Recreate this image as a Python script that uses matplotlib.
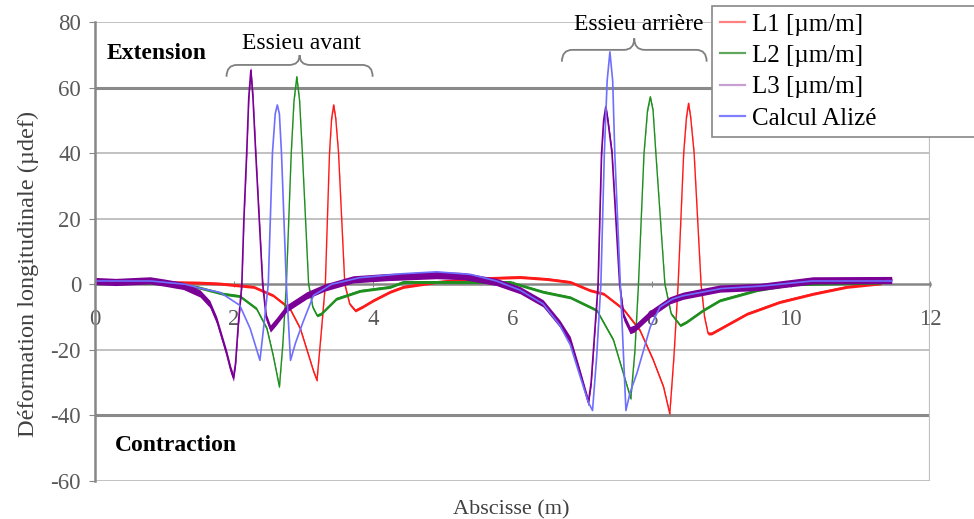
import matplotlib
matplotlib.use("Agg")
import matplotlib.pyplot as plt
import numpy as np
from matplotlib.path import Path
from matplotlib.patches import PathPatch

# données (abscisse en m, déformation en µdef)
x_l1 = [0, 0.8, 1.5, 1.8, 2.28, 2.56, 2.80, 2.95, 3.07, 3.14, 3.19, 3.25, 3.31, 3.37, 3.40, 3.43,
        3.46, 3.50, 3.59, 3.66, 3.74, 3.85, 4.0, 4.24, 4.43, 4.91, 5.5, 6.11, 6.5, 6.83, 7.11, 7.31,
        7.59, 7.83, 8.02, 8.17, 8.26, 8.32, 8.38, 8.46, 8.50, 8.53, 8.56, 8.61, 8.71, 8.76, 8.81,
        8.86, 9.03, 9.37, 9.84, 10.32, 10.80, 11.3]
y_l1 = [0.5, 0.7, 0.5, 0.2, -0.8, -3.4, -7.4, -13.5, -21.7, -26.5, -29.3, -15, 0, 40, 50.5, 54.7,
        50.5, 40, 0, -6, -8, -6.8, -4.9, -2.3, -0.8, 0.7, 1.8, 2.2, 1.6, 0.7, -1.8, -2.9,
        -7.5, -14, -23, -31.3, -39.5, -22, 0, 40, 51, 55.2, 51, 40, 0, -10, -15,
        -15, -13, -9, -5.4, -2.9, -0.8, 0.3]

x_l2 = [0, 0.8, 1.46, 1.84, 2.08, 2.32, 2.47, 2.56, 2.61, 2.65, 2.70, 2.75, 2.82, 2.86, 2.90, 2.94,
        2.98, 3.07, 3.13, 3.19, 3.25, 3.47, 3.81, 4.24, 4.43, 5.96, 6.44, 6.83, 7.21, 7.45, 7.59,
        7.70, 7.76, 7.81, 7.89, 7.94, 7.98, 8.02, 8.06, 8.19, 8.28, 8.41, 8.50, 8.74, 8.98, 9.51,
        10.0, 11.3]
y_l2 = [0.3, 0.5, -0.8, -2.9, -3.6, -7.4, -13.5, -21.7, -27, -31.3, -18, 0, 40, 56, 63.3, 56,
        40, 0, -7, -9.5, -9, -4.4, -2, -0.8, 0.7, 0.7, -2.3, -4, -7.9, -17, -27,
        -34.9, -20, 0, 40, 53, 57.2, 53, 40, 0, -9, -12.5, -11.5, -7.9, -4.9, -1.8,
        0, 0.5]

x_l3 = [0, 0.3, 0.79, 1.0, 1.27, 1.51, 1.65, 1.75, 1.89, 1.95, 1.99, 2.02, 2.06, 2.11, 2.14, 2.18,
        2.21, 2.24, 2.27, 2.31, 2.36, 2.41, 2.46, 2.52, 2.60, 2.75, 3.04, 3.3, 3.71, 4.2, 4.91,
        5.3, 5.77, 6.11, 6.44, 6.68, 6.83, 6.97, 7.09, 7.13, 7.18, 7.23, 7.28, 7.31, 7.34, 7.37,
        7.43, 7.54, 7.60, 7.69, 7.75, 7.98, 8.26, 8.45, 8.98, 9.56, 10.32, 11.45]
y_l3 = [1.0, 0.7, 1.2, 0.5, -0.5, -2.8, -6, -11, -21, -26, -28.5, -24, -12, 0, 20, 40,
        57, 65.3, 57, 40, 20, 0, -10, -13.5, -11.5, -7.4, -3.4, -1, 1.5, 2.2, 2.8,
        2.5, 0.7, -1.8, -5.8, -12, -17, -27, -36, -30, -15, 0, 40, 50, 54.1, 50,
        40, 0, -10, -14, -13.5, -9, -4.9, -3.5, -1.3, -0.8, 1.2, 1.3]

x_alize = [0, 0.8, 1.3, 1.51, 1.80, 2.08, 2.23, 2.31, 2.37, 2.43, 2.49, 2.55, 2.59, 2.62, 2.65,
           2.68, 2.75, 2.81, 2.88, 2.99, 3.14, 3.4, 3.8, 4.4, 4.91, 5.4, 5.77, 6.11, 6.44, 6.68,
           6.83, 6.97, 7.09, 7.15, 7.21, 7.27, 7.32, 7.36, 7.40, 7.44, 7.47, 7.55, 7.63, 7.69,
           7.79, 7.98, 8.12, 8.3, 8.45, 9.0, 9.6, 10.3, 11.45]
y_alize = [1.0, 1.0, 0, -1.2, -2.5, -6.4, -13.5, -19, -23.2, -12, 0, 40, 52, 54.7, 52,
           40, 0, -23.2, -18, -11.5, -3.4, 0, 2.0, 3.2, 3.8, 3.0, 1.0, -1.8, -6, -12.5,
           -18.5, -28, -36, -38.5, -22, 0, 40, 62, 70.9, 62, 40, 0, -38.5, -33,
           -27, -13, -6.9, -4.5, -3.5, -1.3, -0.5, 1.0, 1.0]

labels = ["L1 [µm/m]", "L2 [µm/m]", "L3 [µm/m]", "Calcul Alizé"]
y_ticks = [-60, -40, -20, 0, 20, 40, 60, 80]
x_ticks = [0, 2, 4, 6, 8, 10, 12]

plt.rcParams["font.family"] = ["Liberation Serif", "DejaVu Serif"]
plt.rcParams["axes.unicode_minus"] = False

fig = plt.figure(figsize=(9.74, 5.19), dpi=100)
ax = fig.add_axes([95 / 974, 1 - 481 / 519, 835 / 974, 459 / 519])
ax.set_xlim(0, 12)
ax.set_ylim(-60, 80)

# quadrillage
for yv in y_ticks:
    if yv == 0:
        continue
    if yv in (60, -40):
        ax.axhline(yv, color="#8a8a8a", lw=2.2, zorder=0.5)
    else:
        ax.axhline(yv, color="#b0b0b0", lw=1.1, zorder=0.5)
ax.axvline(12, color="#c0c0c0", lw=1.6, zorder=0.5)

# courbes : trait fin + bande étroite (épaisseur du bruit de mesure)
c1, c2, c3, c4 = "#ff1a1a", "#1f8f1f", "#7a0096", "#6f6fff"
ax.fill_between(x_l1, np.array(y_l1) - 0.45, np.array(y_l1) + 0.45, color=c1, lw=0, zorder=2)
ax.plot(x_l1, y_l1, color=c1, lw=1.0, label=labels[0], zorder=2)
ax.fill_between(x_l2, np.array(y_l2) - 0.45, np.array(y_l2) + 0.45, color=c2, lw=0, zorder=2.1)
ax.plot(x_l2, y_l2, color=c2, lw=1.0, label=labels[1], zorder=2.1)
ax.fill_between(x_l3, np.array(y_l3) - 1.1, np.array(y_l3) + 1.1, color=c3, lw=0, zorder=2.2)
ax.plot(x_l3, y_l3, color=c3, lw=1.2, label=labels[2], zorder=2.2)
ax.plot(x_alize, y_alize, color=c4, lw=1.2, label=labels[3], zorder=2.3)

# axes
ax.set_axisbelow(True)
for s in ["top", "right"]:
    ax.spines[s].set_visible(False)
ax.spines["bottom"].set_position(("data", 0))
ax.spines["bottom"].set_color("#868686")
ax.spines["bottom"].set_linewidth(1.8)
ax.spines["left"].set_color("#868686")
ax.spines["left"].set_linewidth(1.8)
ax.spines["bottom"].set_zorder(0.6)
ax.set_xticks(x_ticks)
ax.set_yticks(y_ticks)
ax.tick_params(axis="x", direction="inout", length=5, pad=15, labelsize=16.5,
               colors="#868686", labelcolor="#595959")
ax.tick_params(axis="y", direction="out", length=4, pad=6, labelsize=16.5,
               colors="#868686", labelcolor="#595959")

fig.text(28 / 974, 1 - 274 / 519, "Déformation longitudinale (µdef)", rotation=90,
         ha="center", va="center", fontsize=17.5, color="#404040")
fig.text(511 / 974, 1 - 510 / 519, "Abscisse (m)", ha="center", va="center",
         fontsize=16, color="#404040")

ax.text(0.16, 70.4, "Extension", fontsize=17, fontweight="bold", va="center")
ax.text(0.29, -49.2, "Contraction", fontsize=17, fontweight="bold", va="center")
ax.text(2.97, 73.5, "Essieu avant", fontsize=17, ha="center", va="center")
ax.text(7.82, 79.1, "Essieu arrière", fontsize=17, ha="center", va="center")


def accolade(x0, x1, y_end, y_mid, y_tip, r=0.15):
    xc = (x0 + x1) / 2
    verts = [(x0, y_end), (x0, y_mid), (x0 + r, y_mid),
             (xc - r, y_mid), (xc, y_mid), (xc, y_tip),
             (xc, y_mid), (xc + r, y_mid),
             (x1 - r, y_mid), (x1, y_mid), (x1, y_end)]
    codes = [Path.MOVETO, Path.CURVE3, Path.CURVE3,
             Path.LINETO, Path.CURVE3, Path.CURVE3,
             Path.CURVE3, Path.CURVE3,
             Path.LINETO, Path.CURVE3, Path.CURVE3]
    ax.add_patch(PathPatch(Path(verts, codes), fill=False, edgecolor="#7f7f7f",
                           lw=1.3, zorder=3))


accolade(1.89, 3.99, 63.3, 66.9, 69.9)
accolade(6.71, 8.79, 67.9, 71.5, 75.0)

leg = ax.legend(loc="upper left", bbox_to_anchor=(712 / 974, 1 - 11 / 519, 280 / 974, 0.01),
                bbox_transform=fig.transFigure, mode="expand", fontsize=18, frameon=True,
                fancybox=False, framealpha=1, edgecolor="#888888",
                handlelength=1.0, handletextpad=0.3, labelspacing=0.35,
                borderpad=0.3, borderaxespad=0)
leg.get_frame().set_linewidth(1.2)
leg.set_zorder(5)
leg_colors = ["#ff8080", "#60a860", "#c8a0d0", "#8080ff"]
for line, c in zip(leg.get_lines(), leg_colors):
    line.set_linewidth(1.6)
    line.set_color(c)

fig.savefig("out.png", dpi=100)
